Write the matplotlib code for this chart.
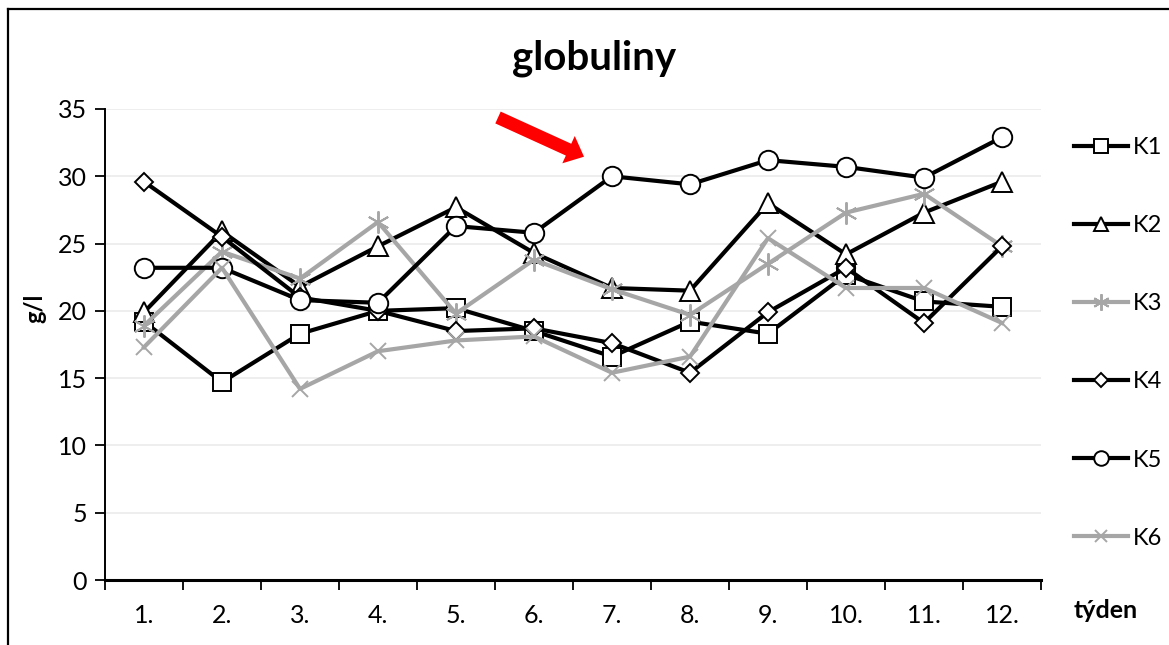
import matplotlib
matplotlib.use("Agg")
import matplotlib.pyplot as plt
from matplotlib.patches import FancyArrow
from matplotlib.transforms import Affine2D
from matplotlib.lines import Line2D

weeks = ["1.", "2.", "3.", "4.", "5.", "6.", "7.", "8.", "9.", "10.", "11.", "12."]
K1 = [19.2, 14.7, 18.3, 20.0, 20.2, 18.5, 16.6, 19.2, 18.3, 22.7, 20.7, 20.3]
K2 = [19.9, 25.9, 21.8, 24.8, 27.7, 24.3, 21.7, 21.5, 28.0, 24.2, 27.3, 29.6]
K3 = [18.9, 24.4, 22.4, 26.6, 19.8, 23.8, 21.6, 19.7, 23.5, 27.3, 28.7, 24.8]
K4 = [29.6, 25.5, 21.0, 20.0, 18.5, 18.7, 17.6, 15.4, 19.9, 23.2, 19.1, 24.8]
K5 = [23.2, 23.2, 20.8, 20.6, 26.3, 25.8, 30.0, 29.4, 31.2, 30.7, 29.9, 32.9]
K6 = [17.3, 23.2, 14.2, 17.0, 17.8, 18.1, 15.4, 16.6, 25.4, 21.7, 21.7, 19.1]
series_names = ["K1", "K2", "K3", "K4", "K5", "K6"]

FONT = "Lato"
plt.rcParams['font.family'] = [FONT, 'DejaVu Sans']

W, H = 1169, 645
fig = plt.figure(figsize=(W / 100, H / 100), dpi=100)
ax = fig.add_axes([105 / W, 1 - 580 / H, 936 / W, (580 - 109) / H])

BLACK = "#000000"
GRAY = "#a6a6a6"
styles = [
    dict(color=BLACK, marker="s", ms=13.5, mfc="white", mec=BLACK, mew=1.4),
    dict(color=BLACK, marker="^", ms=14, mfc="white", mec=BLACK, mew=1.4),
    dict(color=GRAY, marker=(6, 2, 0), ms=16, mfc="none", mec=GRAY, mew=1.4),
    dict(color=BLACK, marker="D", ms=9.5, mfc="white", mec=BLACK, mew=1.4),
    dict(color=BLACK, marker="o", ms=14, mfc="white", mec=BLACK, mew=1.4),
    dict(color=GRAY, marker="x", ms=12, mfc="none", mec=GRAY, mew=1.4),
]
data = [K1, K2, K3, K4, K5, K6]
x = list(range(1, len(weeks) + 1))
handles = []
for i, (vals, st, name) in enumerate(zip(data, styles, series_names)):
    ln, = ax.plot(x, vals, lw=3.0, label=name, zorder=3 + i, clip_on=False, **st)
    handles.append(ln)

TICK_FS = 18
ax.set_xlim(0.5, 12.5)
ax.set_ylim(0, 35)
ax.set_yticks(range(0, 36, 5))
ax.set_xticks(x)
ax.set_xticklabels(weeks)
ax.set_xticks([v + 0.5 for v in range(0, 13)], minor=True)
ax.tick_params(axis="x", which="major", length=0, pad=17, labelsize=TICK_FS)
ax.tick_params(axis="x", which="minor", length=7, width=1.3, direction="out")
ax.tick_params(axis="y", which="major", length=7, width=1.3, direction="out", pad=6, labelsize=TICK_FS)
ax.yaxis.grid(True, color="#ebebeb", lw=1.2, zorder=0)
ax.set_axisbelow(True)
for s in ["top", "right"]:
    ax.spines[s].set_visible(False)
ax.spines["left"].set_linewidth(1.4)
ax.spines["bottom"].set_linewidth(2.2)

fig.text(594 / W, 1 - 58 / H, "globuliny", ha="center", va="center",
         fontsize=29, fontweight="bold")
fig.text(35 / W, 1 - 308 / H, "g/l", ha="center", va="center", rotation=90,
         fontsize=17, fontweight="bold")
fig.text(1106 / W, 1 - 611 / H, "týden", ha="center", va="center",
         fontsize=18, fontweight="bold")

LEG_FS = 17
leg = fig.legend(handles=handles, loc="upper left",
                 bbox_to_anchor=(1074 / W, 1 - 137 / H), frameon=False,
                 borderpad=0, borderaxespad=0, handlelength=2.29,
                 handletextpad=0.21, labelspacing=2.42, fontsize=LEG_FS,
                 markerscale=0.75)

# frame lines (left and top)
fig.add_artist(Line2D([8 / W, 8 / W], [0, 1 - 9 / H], color="black", lw=1.6,
                      transform=fig.transFigure))
fig.add_artist(Line2D([8 / W, 1], [1 - 9 / H, 1 - 9 / H], color="black", lw=1.6,
                      transform=fig.transFigure))

# red arrow annotation, pixel coords (origin top-left)
arrow = FancyArrow(498, 117.5, 86, 39.2, width=13, head_width=30, head_length=17,
                   length_includes_head=True, color="#ff0000", lw=0,
                   transform=Affine2D().scale(1, -1).translate(0, H))
fig.add_artist(arrow)

fig.savefig("out.png", dpi=100)
